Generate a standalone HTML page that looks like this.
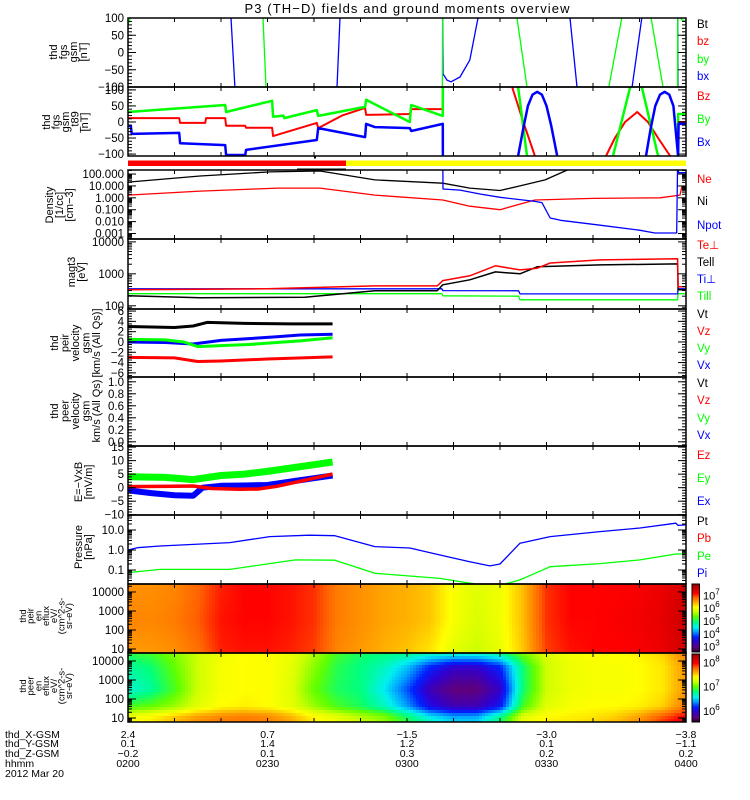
<!DOCTYPE html>
<html><head><meta charset="utf-8"><title>P3 (TH-D) fields and ground moments overview</title>
<style>
html,body{margin:0;padding:0;background:#fff;}
svg{display:block;font-family:"Liberation Sans",sans-serif;}
</style></head>
<body>
<svg id="chart" width="750" height="800" viewBox="0 0 750 800" xmlns="http://www.w3.org/2000/svg">
<rect x="0" y="0" width="750" height="800" fill="#fff"/>
<text x="407" y="13" text-anchor="middle" font-size="13" textLength="325">P3 (TH−D) fields and ground moments overview</text>
</svg>
<script>
// ---------- data ----------
const fgsBxT=[0,21.9,22.15,23.0,23.3,44.7,44.95,45.6,45.9,67.5,67.74,68.6,69.46,71.4,73.5,75.27,75.6,94.8,95.05,96.56,96.8,108.1,108.4,110.5,110.8,118.2,118.3,120];
const fgsBxV=[400,400,100,-100,-400,-400,-100,100,400,400,-62,-80,-85,-71,-22,100,400,400,100,-100,-400,-400,-100,100,400,400,-400,-400];
const fgsByT=[0,0.5,1,28.8,29.03,29.68,30,67.5,67.74,83.4,83.66,85.81,86.1,103.1,103.4,106.2,106.5,112.2,112.5,115.05,115.3,118.1,118.3,119,120];
const fgsByV=[80,100,400,400,100,-100,-400,-400,400,400,100,-100,-400,-400,-100,100,400,400,100,-100,-400,-400,400,95,90];

const tsyBzT=[0,11,11.2,16.6,16.8,20.9,21.1,25.2,25.4,31,31.2,40.6,40.9,46,51,51.2,60.6,60.9,67.7,67.75,82.3,82.6,85,87.5,87.8,102.5,102.8,104.7,106.9,109.5,111.8,114,116.6,116.9,118.2,118.3,120];
const tsyBzV=[12,12,-3,-3,12,12,-12,-12,-18,-18,-44,-3,-19,20,44,22,25,40,40,400,400,109,0,-106,-400,-400,-106,-50,0,31,0,-50,-106,-400,-400,0,0];
const tsyByT=[0,20.9,21.1,31,31.2,33.4,33.6,40.6,40.9,51,51.2,60.6,60.9,67.7,67.75,83.6,83.9,85.8,86.1,104,104.3,108,108.3,110.2,110.5,114,114.3,118.2,118.3,120];
const tsyByV=[31,53,31,66,16,20,12,37,19,47,69,0,53,19,400,400,109,-106,-400,-400,-106,109,400,400,109,-106,-400,-400,25,25];
const tsyBxT=[0,0.6,0.8,11,11.2,20.9,21.1,25.2,25.4,40.6,40.9,51,51.2,53.1,60.6,60.9,67.7,67.75,83.6,83.9,85,86,87,88,89,90,91,92.3,92.6,111.1,111.4,112.4,113.4,114.4,115.4,116.4,117.3,118.3,118.4,120];
const tsyBxV=[-12,-12,-37,-34,-66,-72,-103,-103,-87,-56,-19,-47,-6,-16,-19,-28,-6,-400,-400,-106,-20,50,85,94,85,50,-10,-106,-400,-400,-106,-20,50,85,94,85,50,-106,-6,-6];

const niT=[0,15.5,30.5,41.3,53.1,67.7,73.5,80,84.3,89.7,94,97.2,120];
const niV=[21,68,150,180,32,17,6.6,4.1,10,32,180,600,600];
const neT=[0,15.5,32.3,41.3,53.1,67.7,73.5,80,87.5,100,114.4,118.7,119.1,120];
const neV=[1.7,3.7,6.6,6.6,1.7,0.66,0.2,0.1,0.66,0.9,1.0,1.7,8.5,8.5];
const npotT=[67.7,67.75,71.4,75.7,80,87.5,89,90.8,93,101.5,110,113.3,118,118.2,118.4,120];
const npotV=[1000,5.5,4.5,2.1,1.1,0.5,0.4,0.02,0.013,0.005,0.0019,0.0011,0.0011,1000,130,130];

const tePerpT=[0,30,53.1,66.5,67.7,73.5,79,84.3,88,90.8,101.5,118.2,118.3,120];
const tePerpV=[316,340,420,420,616,870,1780,1330,1500,2190,2730,2950,395,395];
const teParT=[0,15.5,38,53.1,66.5,67.7,73.5,79,84.3,88,101.5,118.2,118.3,120];
const teParV=[205,178,185,294,294,455,650,1150,1000,1660,1900,2050,316,316];
const tiT=[0,67.5,67.7,84,84.3,118.2,118.3,120];
const tiPerpV=[340,340,300,294,236,236,340,340];
const tiParV=[240,240,205,200,154,154,240,240];

const vtT=[0,5,10,14,17,25,35,44];
const vtV=[3.0,2.9,2.8,3.1,3.8,3.6,3.5,3.5];
const vxT=[0,8,14,20,26,32,37,44];
const vxV=[0,-0.1,-0.4,0.3,0.65,1.0,1.35,1.5];
const vyT=[0,8,12,15,20,26,32,37,44];
const vyV=[0.5,0.4,0,-0.9,-0.7,-0.5,-0.1,0.2,0.8];
const vzT=[0,10,15,20,30,44];
const vzV=[-3.0,-3.1,-3.8,-3.7,-3.3,-2.9];

const eyT=[0,8,14,20,25,30,36,40,44];
const eyV=[4,3.8,3,4.5,5,6,7.5,8.5,9.5];
const exT=[0,5,10,14,16,20,25,30,36,40,44];
const exV=[-1,-2,-2.8,-3,0,0.7,0.8,1,2.5,3.5,4.5];
const ezT=[0,10,14,18,24,28,32,36,40,44];
const ezV=[0.4,0.5,0.6,-0.3,-0.6,-0.5,0.5,2,3.5,5];

const piT=[0,2,6.9,21.9,30.5,39,44.5,53.1,60.6,67.1,73.5,77.8,80,84.3,90.8,101.5,110.1,117.8,118.3,120];
const piV=[1.0,1.3,1.58,2.34,4.7,5.5,5.2,1.48,1.26,0.56,0.26,0.16,0.2,2.2,4.7,8.3,12.6,21.9,17,18];
const peT=[0,6.9,21.9,36,44.5,53.1,67.1,73.5,77.8,80,84.3,90.8,101.5,110.1,117.8,120];
const peV=[0.074,0.107,0.107,0.32,0.31,0.068,0.038,0.022,0.015,0.017,0.032,0.147,0.21,0.32,0.63,0.63];

// spectrograms: log10 eflux per (energy row, time column)
const specT=[0,5,10,15,20,25,30,35,40,45,50,55,60,65,70,75,80,85,90,95,100,105,110,115,120];
const ionLogE=[0.7,2.5,4.5];
const ionFluxLow=[6.45,6.45,6.5,6.65,6.95,7.0,7.0,6.95,6.85,6.55,6.45,6.35,6.25,6.1,5.8,5.65,5.85,6.25,6.85,7.0,7.05,7.05,7.1,7.2,7.4];
const ionFluxMid=[6.55,6.55,6.6,6.75,7.0,7.05,7.05,7.0,6.9,6.6,6.5,6.4,6.35,6.25,5.95,5.75,5.9,6.3,6.9,7.05,7.05,7.1,7.15,7.25,7.45];
const ionFluxHigh=[6.5,6.5,6.55,6.7,6.95,7.05,7.05,7.0,6.9,6.6,6.5,6.4,6.35,6.25,5.95,5.8,5.9,6.3,6.9,7.05,7.05,7.05,7.1,7.2,7.4];
const ionRows=[ionFluxLow,ionFluxMid,ionFluxHigh];
const eleLogE=[0.7,1.1,1.6,2.5,3.7,4.5];
const eleFlux07=[7.35,7.4,7.52,7.63,7.68,7.68,7.66,7.57,7.4,7.29,7.18,7.07,6.84,6.62,6.48,6.48,6.76,7.29,7.4,7.4,7.46,7.52,7.63,7.85,8.02];
const eleFlux11=[7.29,7.35,7.46,7.57,7.63,7.66,7.63,7.52,7.35,7.24,7.12,7.01,6.76,6.48,6.34,6.34,6.68,7.24,7.35,7.38,7.4,7.46,7.57,7.74,7.91];
const eleFlux16=[6.9,6.96,7.07,7.24,7.35,7.38,7.35,7.26,7.07,6.9,6.79,6.62,6.34,6.0,5.84,5.84,6.06,6.9,7.24,7.32,7.35,7.35,7.38,7.46,7.68];
const eleFlux25=[6.56,6.68,6.9,7.18,7.32,7.35,7.35,7.24,6.96,6.79,6.73,6.5,6.2,5.84,5.67,5.67,5.89,6.76,7.18,7.29,7.32,7.32,7.35,7.4,7.6];
const eleFlux37=[6.68,6.76,6.96,7.18,7.32,7.35,7.35,7.26,7.04,6.82,6.73,6.62,6.42,6.12,5.92,5.92,6.12,6.76,7.18,7.29,7.32,7.32,7.35,7.4,7.6];
const eleFlux45=[6.84,6.9,7.04,7.18,7.29,7.35,7.35,7.29,7.12,6.9,6.79,6.76,6.73,6.68,6.68,6.68,6.76,7.04,7.24,7.32,7.35,7.35,7.38,7.46,7.68];
const eleRows=[eleFlux07,eleFlux11,eleFlux16,eleFlux25,eleFlux37,eleFlux45];

// ephemeris / time labels
const timeLabels=['0200','0230','0300','0330','0400'];
const xGsm=['2.4','0.7','-1.5','-3.0','-3.8'];
const yGsm=['0.1','1.4','1.2','0.1','-1.1'];
const zGsm=['-0.2','0.1','0.3','0.2','0.2'];

// ---------- drawing ----------
const NS='http://www.w3.org/2000/svg';
const svg=document.getElementById('chart');
function mk(tag,attrs,parent){const e=document.createElementNS(NS,tag);for(const k in attrs)e.setAttribute(k,attrs[k]);(parent||svg).appendChild(e);return e;}
const X0=128,X1=686;
function xs(t){return X0+t/120*(X1-X0);}
function ys(p,v){const a=p.log?Math.log10(v):v;return p.bot-(a-p.min)/(p.max-p.min)*(p.bot-p.top);}
const RED='#ff0000',GRN='#00ff00',BLU='#0000ff',BLK='#000000';

const P={
 fgs:{top:18,bot:87,min:-100,max:100,log:false},
 tsy:{top:87,bot:156,min:-106,max:109,log:false},
 den:{top:170,bot:239,min:-3.46,max:2.34,log:true},
 tmp:{top:239,bot:309,min:1.9,max:4.09,log:true},
 vel:{top:309,bot:377,min:-6.8,max:6.4,log:false},
 pee:{top:377,bot:446,min:-0.07,max:1.08,log:false},
 efl:{top:446,bot:515,min:-10.1,max:15.4,log:false},
 prs:{top:515,bot:584,min:-1.7,max:1.75,log:true},
 ion:{top:584,bot:653,min:0.79,max:4.42,log:true},
 ele:{top:653,bot:722,min:0.79,max:4.42,log:true}
};
const defs=mk('defs',{});
for(const k in P){
  const cp=mk('clipPath',{id:'clip-'+k},defs);
  mk('rect',{x:X0,y:P[k].top,width:X1-X0,height:P[k].bot-P[k].top},cp);
}

// colormap
const CSTOPS=[[0,[32,0,32]],[0.06,[96,0,122]],[0.15,[48,0,208]],[0.22,[0,32,255]],[0.3,[0,160,255]],[0.36,[0,240,240]],[0.44,[0,255,128]],[0.52,[96,255,0]],[0.6,[208,255,0]],[0.66,[255,255,0]],[0.74,[255,160,0]],[0.8,[255,96,0]],[0.86,[255,0,0]],[0.95,[192,0,0]],[1,[144,0,0]]];
function cmap(f){f=Math.max(0,Math.min(1,f));for(let i=1;i<CSTOPS.length;i++){if(f<=CSTOPS[i][0]){const a=CSTOPS[i-1],b=CSTOPS[i];const u=(f-a[0])/(b[0]-a[0]);const c=a[1].map((v,j)=>Math.round(v+(b[1][j]-v)*u));return 'rgb('+c.join(',')+')';}}return 'rgb(144,0,0)';}
function interpIdx(arr,x){if(x<=arr[0])return[0,0,0];const n=arr.length;if(x>=arr[n-1])return[n-1,n-1,0];for(let i=1;i<n;i++){if(x<=arr[i])return[i-1,i,(x-arr[i-1])/(arr[i]-arr[i-1])];}return[n-1,n-1,0];}

function drawSpec(p,key,logE,rows,cmin,cmax){
  const g=mk('g',{'clip-path':'url(#clip-'+key+')'});
  
  
  const cw=3,ch=3;
  for(let x=X0;x<X1;x+=cw){
    const t=(x+cw/2-X0)/(X1-X0)*120;
    const [ti0,ti1,tu]=interpIdx(specT,t);
    for(let y=p.top;y<p.bot;y+=ch){
      const le=p.min+(p.bot-(y+ch/2))/(p.bot-p.top)*(p.max-p.min);
      const [e0,e1,eu]=interpIdx(logE,le);
      const v0=rows[e0][ti0]+(rows[e0][ti1]-rows[e0][ti0])*tu;
      const v1=rows[e1][ti0]+(rows[e1][ti1]-rows[e1][ti0])*tu;
      const v=v0+(v1-v0)*eu;
      const r=mk('rect',{x:x,y:y,width:cw+0.5,height:ch+0.5,fill:cmap((v-cmin)/(cmax-cmin))},g);
      
      
    }
  }
}
drawSpec(P.ion,'ion',ionLogE,ionRows,2.5,7.8);
drawSpec(P.ele,'ele',eleLogE,eleRows,5.5,8.3);

function series(key,T,V,color,w,name){
  const p=P[key];
  const pts=T.map((t,i)=>xs(t).toFixed(1)+','+ys(p,V[i]).toFixed(1)).join(' ');
  const pl=mk('polyline',{points:pts,fill:'none',stroke:color,'stroke-width':w,'clip-path':'url(#clip-'+key+')','stroke-linejoin':'round'});
  
  
}
series('fgs',fgsBxT,fgsBxV,BLU,1.3,'fgs-bx-line');
series('fgs',fgsByT,fgsByV,GRN,1.3,'fgs-by-line');
series('tsy',tsyBzT,tsyBzV,RED,2,'tsy-bz-line');
series('tsy',tsyByT,tsyByV,GRN,2.5,'tsy-by-line');
series('tsy',tsyBxT,tsyBxV,BLU,2.5,'tsy-bx-line');
series('den',niT,niV,BLK,1.3,'density-ni-line');
series('den',neT,neV,RED,1.3,'density-ne-line');
series('den',npotT,npotV,BLU,1.3,'density-npot-line');
series('tmp',tiT,tiParV,GRN,1.3,'temp-ti-par-line');
series('tmp',tiT,tiPerpV,BLU,1.3,'temp-ti-perp-line');
series('tmp',teParT,teParV,BLK,1.5,'temp-te-par-line');
series('tmp',tePerpT,tePerpV,RED,1.5,'temp-te-perp-line');
series('vel',vtT,vtV,BLK,3,'velocity-vt-line');
series('vel',vxT,vxV,BLU,3,'velocity-vx-line');
series('vel',vyT,vyV,GRN,3,'velocity-vy-line');
series('vel',vzT,vzV,RED,3,'velocity-vz-line');
series('efl',eyT,eyV,GRN,7,'efield-ey-line');
series('efl',exT,exV,BLU,6,'efield-ex-line');
series('efl',ezT,ezV,RED,3.5,'efield-ez-line');
series('prs',peT,peV,GRN,1.3,'pressure-pe-line');
series('prs',piT,piV,BLU,1.3,'pressure-pi-line');

// mode bar
let el=mk('rect',{x:X0,y:160.5,width:346-X0,height:5.5,fill:'#ff0000'});


el=mk('rect',{x:346,y:160.5,width:X1-346,height:5.5,fill:'#ffff00'});


el=mk('rect',{x:297,y:168.5,width:49,height:1.5,fill:'#000'});


el=mk('rect',{x:314,y:156.5,width:2,height:2,fill:'#000'});



// axes
const FS=11.5;
function tick(x1,y1,x2,y2,name){const t=mk('line',{x1:x1,y1:y1,x2:x2,y2:y2,stroke:'#000','stroke-width':1});}
function ylabel(p,v,txt,key){const t=mk('text',{x:124,y:ys(p,v)+4,'text-anchor':'end','font-size':FS});t.textContent=txt;}
function linAxis(key,majors,labels,minorStep){
  const p=P[key];
  for(let v=Math.ceil(p.min/minorStep)*minorStep;v<=p.max+1e-9;v+=minorStep){
    const y=ys(p,v);tick(X0,y,X0+4,y,key+'-minor-tick');tick(X1,y,X1-4,y,key+'-minor-tick');
  }
  majors.forEach((v,i)=>{const y=ys(p,v);tick(X0,y,X0+8,y,key+'-major-tick');tick(X1,y,X1-8,y,key+'-major-tick');ylabel(p,v,labels[i],key);});
}
function logAxis(key,decades,labels,withLabels){
  const p=P[key];
  for(let d=Math.floor(p.min);d<=Math.ceil(p.max);d++){
    for(let m=1;m<10;m++){
      const lv=d+Math.log10(m);if(lv<p.min||lv>p.max)continue;
      const y=p.bot-(lv-p.min)/(p.max-p.min)*(p.bot-p.top);
      const L=m===1?8:4;tick(X0,y,X0+L,y,key+'-tick');tick(X1,y,X1-L,y,key+'-tick');
    }
  }
  if(withLabels)decades.forEach((d,i)=>{const t=mk('text',{x:124,y:p.bot-(d-p.min)/(p.max-p.min)*(p.bot-p.top)+4,'text-anchor':'end','font-size':FS});t.textContent=labels[i];});
}
const fgsTicks=[-100,-50,0,50,100];
const fgsTickLabels=['−100','−50','0','50','100'];
linAxis('fgs',fgsTicks,fgsTickLabels,10);
linAxis('tsy',fgsTicks,fgsTickLabels,10);
logAxis('den',[-3,-2,-1,0,1,2],['0.001','0.010','0.100','1.000','10.000','100.000'],true);
logAxis('tmp',[2,3,4],['100','1000','10000'],true);
linAxis('vel',[-6,-4,-2,0,2,4,6],['−6','−4','−2','0','2','4','6'],0.5);
linAxis('pee',[0,0.2,0.4,0.6,0.8,1.0],['0.0','0.2','0.4','0.6','0.8','1.0'],0.05);
linAxis('efl',[-10,-5,0,5,10,15],['−10','−5','0','5','10','15'],1);
logAxis('prs',[-1,0,1],['0.1','1.0','10.0'],true);
logAxis('ion',[1,2,3,4],['10','100','1000','10000'],true);
logAxis('ele',[1,2,3,4],['10','100','1000','10000'],true);

// frames & time ticks
for(const k in P){
  const p=P[k];
  for(let m=10;m<120;m+=10){const x=xs(m);tick(x,p.top,x,p.top+4,k+'-x-tick');tick(x,p.bot,x,p.bot-4,k+'-x-tick');}
  const f=mk('rect',{x:X0,y:p.top,width:X1-X0,height:p.bot-p.top,fill:'none',stroke:'#000','stroke-width':1.5});
  
  
}

// left titles
function vlabel(cx,x0,step,lines,fs,name){
  const t=mk('text',{transform:'translate('+x0+','+cx+') rotate(-90)','text-anchor':'middle','font-size':fs});
  
  
  lines.forEach((s,i)=>{const ts=mk('tspan',{x:0,y:i*step},t);ts.textContent=s;});
}
vlabel(52,57,10,['thd','fgs','gsm','[nT]'],11,'fgs-axis-title');
vlabel(122,50,9.5,['thd','fgs','gsm','_t89','[nT]'],11,'tsy-axis-title');
vlabel(205,53,10,['Density','[1/cc]','[cm−3]'],11,'density-axis-title');
vlabel(272,75,10,['magt3','[eV]'],11,'temperature-axis-title');
vlabel(343,58,10.5,['thd','peir','velocity','gsm','[km/s (All Qs)]'],11,'velocity-axis-title');
vlabel(411,58,10.5,['thd','peer','velocity','gsm','km/s (All Qs)'],11,'peer-velocity-axis-title');
vlabel(482,82,10,['E=−VxB','[mV/m]'],11,'efield-axis-title');
vlabel(547,82,10,['Pressure','[nPa]'],11,'pressure-axis-title');
vlabel(616,26,7.7,['thd','peir','en','eflux','eV/','(cm^2-s-','sr-eV)'],9.5,'ion-spec-axis-title');
vlabel(686,26,7.7,['thd','peer','en','eflux','eV/','(cm^2-s-','sr-eV)'],9.5,'electron-spec-axis-title');

// right legends
const legendItems=[
 ['Bt',BLK,24],['bz',RED,41],['by',GRN,59],['bx',BLU,76],
 ['Bz',RED,96],['By',GRN,119],['Bx',BLU,142],
 ['Ne',RED,179],['Ni',BLK,201],['Npot',BLU,225],
 ['Te⊥',RED,245],['Tell',BLK,262],['Ti⊥',BLU,279],['Till',GRN,296],
 ['Vt',BLK,314],['Vz',RED,331],['Vy',GRN,348],['Vx',BLU,365],
 ['Vt',BLK,383],['Vz',RED,400],['Vy',GRN,418],['Vx',BLU,435],
 ['Ez',RED,455],['Ey',GRN,478],['Ex',BLU,501],
 ['Pt',BLK,521],['Pb',RED,538],['Pe',GRN,556],['Pi',BLU,573]];
legendItems.forEach(it=>{
  const t=mk('text',{x:697,y:it[2]+4,'font-size':11.5,fill:it[1]});
  t.textContent=it[0];
  
  
});

// colorbars
function colorbar(top,bot,cmin,cmax,decs,name){
  const g=mk('g',{});
  
  
  for(let y=top;y<bot;y++){mk('rect',{x:692,y:y,width:7.5,height:1.2,fill:cmap((bot-y-0.5)/(bot-top))},g);}
  mk('rect',{x:692,y:top,width:7.5,height:bot-top,fill:'none',stroke:'#000','stroke-width':1},g);
  decs.forEach(d=>{
    const y=bot-(d-cmin)/(cmax-cmin)*(bot-top);
    const t=mk('text',{x:703,y:y+5,'font-size':11},g);
    t.textContent='10';
    const s=mk('tspan',{dy:-5,'font-size':8},t);s.textContent=String(d);
  });
}
colorbar(584,652,2.5,7.8,[3,4,5,6,7],'ion-colorbar');
colorbar(654,722,5.5,8.3,[6,7,8],'electron-colorbar');

// bottom labels
function btext(x,y,s,anchor,name){const t=mk('text',{x:x,y:y,'font-size':10.5,'text-anchor':anchor});t.textContent=s;}
const rowY=[738,747,757,767];
btext(5,rowY[0],'thd_X-GSM','start','x-gsm-row-label');
btext(5,rowY[1],'thd_Y-GSM','start','y-gsm-row-label');
btext(5,rowY[2],'thd_Z-GSM','start','z-gsm-row-label');
btext(5,rowY[3],'hhmm','start','hhmm-row-label');
btext(5,777,'2012 Mar 20','start','date-label');
timeLabels.forEach((s,i)=>{
  const x=xs(i*30);
  btext(x,rowY[0],xGsm[i].replace('-','−'),'middle','x-gsm-value');
  btext(x,rowY[1],yGsm[i].replace('-','−'),'middle','y-gsm-value');
  btext(x,rowY[2],zGsm[i].replace('-','−'),'middle','z-gsm-value');
  btext(x,rowY[3],s,'middle','time-tick-label');
});
</script>
</body></html>
